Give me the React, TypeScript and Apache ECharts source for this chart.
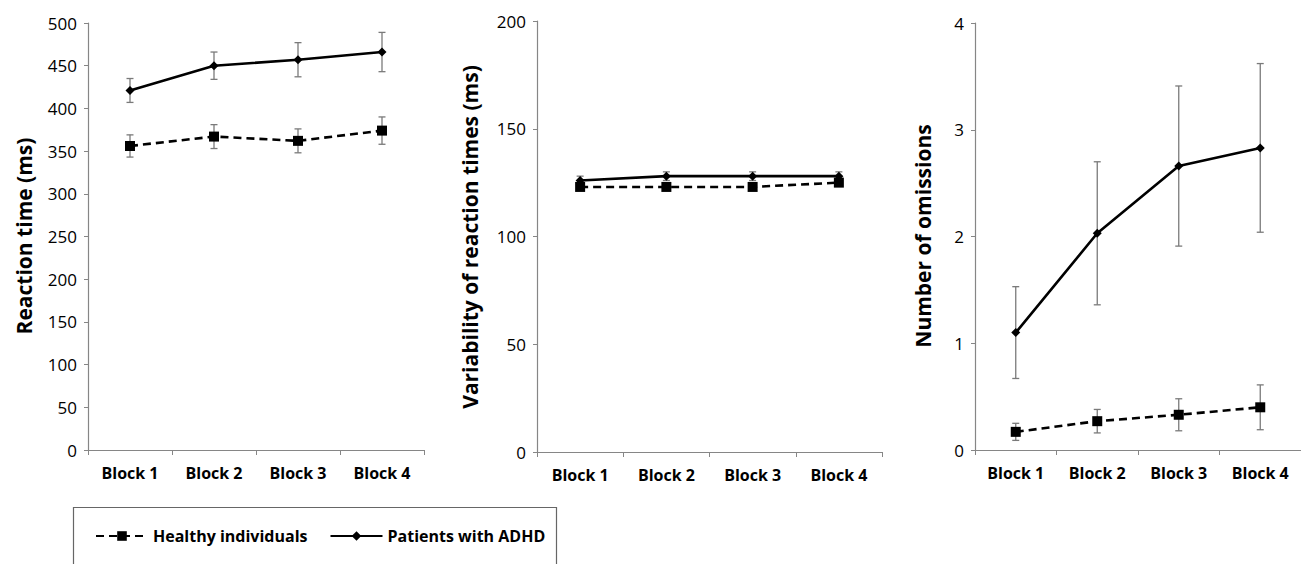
import React, { useEffect, useRef } from "react";
import * as echarts from "echarts";

const blocks = ["Block 1", "Block 2", "Block 3", "Block 4"];

const rtHealthy = [356, 367, 362, 374];
const rtHealthyErr = [13, 14, 14, 16];
const rtAdhd = [421, 450, 457, 466];
const rtAdhdErr = [14, 16, 20, 23];

const varHealthy = [123, 123, 123, 125];
const varHealthyErr = [1.5, 1.5, 1.5, 1.5];
const varAdhd = [126, 128, 128, 128];
const varAdhdErr = [2, 2, 2, 2];

const omHealthy = [0.17, 0.27, 0.33, 0.4];
const omHealthyErr = [0.08, 0.11, 0.15, 0.21];
const omAdhd = [1.1, 2.03, 2.66, 2.83];
const omAdhdErr = [0.43, 0.67, 0.75, 0.79];

const yMax = [500, 200, 4];
const yStep = [50, 50, 1];

const FONT = "Open Sans";
const AXIS_COLOR = "#868686";
const ERR_COLOR = "#7a7a7a";

function errSeries(idx: number, vals: number[], errs: number[]) {
  return {
    type: "custom",
    xAxisIndex: idx,
    yAxisIndex: idx,
    silent: true,
    z: 3,
    encode: { x: 0, y: [1, 2] },
    data: vals.map((v, i) => [i, v - errs[i], v + errs[i]]),
    renderItem: (params: any, api: any) => {
      const lo = api.coord([api.value(0), api.value(1)]);
      const hi = api.coord([api.value(0), api.value(2)]);
      const w = 3.5;
      const st = { stroke: ERR_COLOR, lineWidth: 1.3 };
      return {
        type: "group",
        children: [
          { type: "line", shape: { x1: lo[0], y1: lo[1], x2: hi[0], y2: hi[1] }, style: st },
          { type: "line", shape: { x1: lo[0] - w, y1: lo[1], x2: lo[0] + w, y2: lo[1] }, style: st },
          { type: "line", shape: { x1: hi[0] - w, y1: hi[1], x2: hi[0] + w, y2: hi[1] }, style: st },
        ],
      };
    },
  };
}

function healthySeries(idx: number, vals: number[]) {
  return {
    name: "Healthy individuals",
    type: "line",
    xAxisIndex: idx,
    yAxisIndex: idx,
    data: vals,
    z: 5,
    symbol: "rect",
    symbolSize: 10,
    itemStyle: { color: "#000" },
    lineStyle: { color: "#000", width: 2.6, type: [8, 5] },
  };
}

function adhdSeries(idx: number, vals: number[]) {
  return {
    name: "Patients with ADHD",
    type: "line",
    xAxisIndex: idx,
    yAxisIndex: idx,
    data: vals,
    z: 5,
    symbol: "diamond",
    symbolSize: 9,
    itemStyle: { color: "#000" },
    lineStyle: { color: "#000", width: 2.6, type: "solid" },
  };
}

export default function App() {
  const ref = useRef<HTMLDivElement>(null);

  useEffect(() => {
    if (!ref.current) return;
    const chart = echarts.init(ref.current, null, { renderer: "svg" });
    const grids = [
      { left: 88, top: 23, width: 336, height: 427 },
      { left: 537, top: 21, width: 345, height: 431 },
      { left: 975, top: 23, width: 336, height: 427 },
    ];
    const xAxes = grids.map((_, i) => ({
      type: "category",
      gridIndex: i,
      data: blocks,
      boundaryGap: true,
      axisLine: { lineStyle: { color: AXIS_COLOR, width: 1.2 } },
      axisTick: { show: true, length: 5, lineStyle: { color: AXIS_COLOR } },
      axisLabel: {
        color: "#000",
        fontFamily: FONT,
        fontWeight: "bold",
        fontSize: 16,
        margin: 15,
      },
    }));
    const yAxes = grids.map((_, i) => ({
      type: "value",
      gridIndex: i,
      min: 0,
      max: yMax[i],
      interval: yStep[i],
      splitLine: { show: false },
      axisLine: { show: true, lineStyle: { color: AXIS_COLOR, width: 1.2 } },
      axisTick: { show: true, length: 4, lineStyle: { color: AXIS_COLOR } },
      axisLabel: {
        color: "#000",
        fontFamily: FONT,
        fontSize: 17,
        margin: 11,
      },
    }));

    const titleStyle = {
      fill: "#000",
      fontFamily: FONT,
      fontWeight: "bold",
      fontSize: 21,
      align: "center",
      verticalAlign: "middle",
    };

    chart.setOption({
      animation: false,
      backgroundColor: "#fff",
      grid: grids,
      xAxis: xAxes,
      yAxis: yAxes,
      legend: {
        data: ["Healthy individuals", "Patients with ADHD"],
        left: 95,
        top: 528,
        padding: 0,
        itemWidth: 52,
        itemHeight: 12,
        itemGap: 22,
        textStyle: { color: "#000", fontFamily: FONT, fontWeight: "bold", fontSize: 16 },
        selectedMode: false,
      },
      graphic: [
        { type: "text", x: 24, y: 236, rotation: Math.PI / 2, style: { ...titleStyle, text: "Reaction time (ms)" } },
        { type: "text", x: 470, y: 237, rotation: Math.PI / 2, style: { ...titleStyle, text: "Variability of reaction times (ms)" } },
        { type: "text", x: 923, y: 236, rotation: Math.PI / 2, style: { ...titleStyle, text: "Number of omissions" } },
        {
          type: "rect",
          shape: { x: 73.5, y: 507.5, width: 483, height: 80 },
          style: { fill: "none", stroke: "#666", lineWidth: 1.2 },
          z: 0,
        },
      ],
      series: [
        errSeries(0, rtHealthy, rtHealthyErr),
        errSeries(0, rtAdhd, rtAdhdErr),
        healthySeries(0, rtHealthy),
        adhdSeries(0, rtAdhd),
        errSeries(1, varHealthy, varHealthyErr),
        errSeries(1, varAdhd, varAdhdErr),
        healthySeries(1, varHealthy),
        adhdSeries(1, varAdhd),
        errSeries(2, omHealthy, omHealthyErr),
        errSeries(2, omAdhd, omAdhdErr),
        healthySeries(2, omHealthy),
        adhdSeries(2, omAdhd),
      ],
    });
    return () => chart.dispose();
  }, []);

  return (
    <div
      ref={ref}
      style={{ position: "fixed", left: 0, top: 0, width: 1301, height: 564 }}
    />
  );
}
